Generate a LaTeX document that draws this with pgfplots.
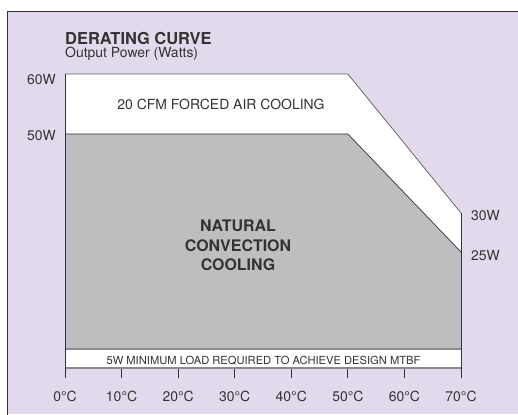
\documentclass[border=0pt]{standalone}
\usepackage{fontspec}
\setmainfont{TeX Gyre Heros}
\usepackage{pgfplots}
\pgfplotsset{compat=1.18}
\definecolor{bg}{HTML}{E2DAEC}
\definecolor{fillgray}{HTML}{BDBEC0}
\definecolor{txt}{HTML}{333333}
\definecolor{bandline}{HTML}{8A8A8C}
\begin{document}
\begin{tikzpicture}[x=1bp,y=1bp]
\path[use as bounding box] (0,0) rectangle (518,414);
\fill[white] (0,0) rectangle (518,414);
\fill[bg] (7.5,0) rectangle (518,402.5);
\draw[txt, line width=1.4bp] (7.5,-2) -- (7.5,402.5) -- (520,402.5);
\node[anchor=base west, inner sep=0, text=txt, font=\bfseries\fontsize{16.5}{19}\selectfont] at (65,370) {DERATING CURVE};
\node[anchor=base west, inner sep=0, text=txt, font=\fontsize{14}{17}\selectfont] at (65,357) {Output Power (Watts)};
\begin{axis}[
  at={(65bp,46bp)}, anchor=south west,
  scale only axis, width=396bp, height=294bp,
  xmin=0, xmax=70, ymin=0, ymax=294,
  clip=false,
  axis line style={draw=none},
  xtick={0,10,20,30,40,50,60,70},
  xticklabels={0°C,10°C,20°C,30°C,40°C,50°C,60°C,70°C},
  xtick align=outside, ytick align=inside,
  xtick pos=bottom, ytick pos=left,
  major tick length=10bp,
  xtick style={draw=txt, line width=0.9bp},
  ytick style={draw=none},
  ytick={283.7,227.3},
  yticklabels={60W,50W},
  tick label style={text=txt, font=\fontsize{14}{17}\selectfont, inner sep=0},
  xticklabel style={anchor=base, yshift=-23bp},
  yticklabel style={anchor=base east, xshift=-9bp},
]
% forced air region
\addplot[fill=white, draw=none] coordinates {(0,0) (0,294) (50,294) (70,155) (70,0)};
% natural convection region
\addplot[fill=fillgray, draw=none] coordinates {(0,19) (0,234) (50,234) (70,116) (70,19)};
% outlines
\addplot[draw=black!65, line width=0.7bp] coordinates {(0,294) (50,294) (70,155)};
\addplot[draw=black!80, line width=0.7bp] coordinates {(0,234) (50,234) (70,116)};
\addplot[draw=bandline, line width=1.6bp] coordinates {(0,19) (70,19)};
\addplot[draw=bandline, line width=1.6bp] coordinates {(0,0) (70,0)};
\addplot[draw=txt, line width=1bp] coordinates {(0,-9.5) (0,294)};
\addplot[draw=txt, line width=1bp] coordinates {(70,-9.5) (70,155)};
% texts
\node[anchor=base, inner sep=0, text=txt, font=\fontsize{14}{17}\selectfont] at (axis cs:27.58,258) {20 CFM FORCED AIR COOLING};
\node[anchor=base, inner sep=0, text=txt, font=\bfseries\fontsize{16}{19}\selectfont] at (axis cs:30.58,137) {NATURAL};
\node[anchor=base, inner sep=0, text=txt, font=\bfseries\fontsize{16}{19}\selectfont] at (axis cs:30.58,117) {CONVECTION};
\node[anchor=base, inner sep=0, text=txt, font=\bfseries\fontsize{16}{19}\selectfont] at (axis cs:30.58,98) {COOLING};
\node[anchor=base, inner sep=0, text=txt, font=\fontsize{11.2}{13}\selectfont] at (axis cs:35.09,4) {5W MINIMUM LOAD REQUIRED TO ACHIEVE DESIGN MTBF};
\node[anchor=base west, inner sep=0, text=txt, font=\fontsize{14}{17}\selectfont, xshift=10bp] at (axis cs:70,147.3) {30W};
\node[anchor=base west, inner sep=0, text=txt, font=\fontsize{14}{17}\selectfont, xshift=10bp] at (axis cs:70,108) {25W};
\end{axis}
\end{tikzpicture}
\end{document}
